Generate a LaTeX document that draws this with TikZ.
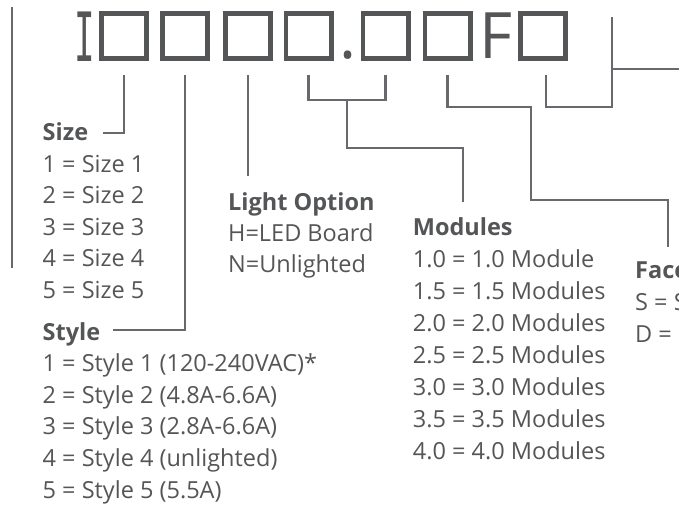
\documentclass[tikz,border=0pt]{standalone}
\usepackage{fontspec}
\setmainfont{Open Sans}
\newfontfamily\slabfont{DejaVu Sans Mono}
\usetikzlibrary{positioning,calc}
\definecolor{ink}{RGB}{84,85,87}
\definecolor{wirecol}{RGB}{104,105,108}
\tikzset{
  glyphbox/.style={draw=ink, line width=4.7pt, minimum width=45.3pt, minimum height=45.3pt, inner sep=0pt},
  glyph/.style={text=ink, inner sep=0pt, anchor=base},
  wire/.style={draw=wirecol, line width=2.4pt},
  head/.style={text=ink, anchor=base west, inner sep=0pt, font=\bfseries\fontsize{23.5}{28}\selectfont},
  item/.style={text=ink, anchor=base west, inner sep=0pt, font=\fontsize{23.5}{28}\selectfont},
}
\begin{document}
\begin{tikzpicture}[x=1pt,y=-1pt]
  \useasboundingbox (0,0) rectangle (679,506);
  \clip (0,0) rectangle (679,506);
  % part number
  \node[glyph, font=\slabfont\fontsize{68}{68}\selectfont] (I) at (85,61) {\scalebox{.5}[1]{I}};
  \node[glyphbox] (b1) at (124,36) {};
  \node[glyphbox] (b2) [right=11pt of b1] {};
  \node[glyphbox] (b3) [right=13pt of b2] {};
  \node[glyphbox] (b4) [right=10.5pt of b3] {};
  \node[glyph, font=\fontsize{64}{64}\selectfont] (dot) at (348,58) {.};
  \node[glyphbox] (b5) [right=27pt of b4] {};
  \node[glyphbox] (b6) [right=12pt of b5] {};
  \node[glyph, font=\fontsize{64}{64}\selectfont] (F) at (496.5,58) {F};
  \node[glyphbox] (b7) [right=45.5pt of b6] {};
  %
  \coordinate (t1) at ($(b1.south)+(0,14)$);
  \coordinate (t2) at ($(b2.south)+(0,14)$);
  \coordinate (t3) at ($(b3.south)+(0,14)$);
  \coordinate (t4) at ($(b4.south)+(0,14)$);
  \coordinate (t5) at ($(b5.south)+(0,14)$);
  \coordinate (t6) at ($(b6.south)+(0,14)$);
  \coordinate (t7) at ($(b7.south)+(3,14)$);
  % legends
  \node[head] (sizehd) at (42.5,140.5) {Size};
  \foreach \txt [count=\i] in {1 = Size 1,2 = Size 2,3 = Size 3,4 = Size 4,5 = Size 5}
    \node[item] (size\i) at (42.5,140.5+31.6*\i) {\txt};
  \node[head] (stylehd) at (42.5,340) {Style};
  \foreach \txt [count=\i] in {1 = Style 1 (120-240VAC)*,2 = Style 2 (4.8A-6.6A),3 = Style 3 (2.8A-6.6A),4 = Style 4 (unlighted),5 = Style 5 (5.5A)}
    \node[item] (style\i) at (42.5,340+31.6*\i) {\txt};
  \node[head] (lighthd) at (228,210) {Light Option};
  \foreach \txt [count=\i] in {H=LED Board,N=Unlighted}
    \node[item] (light\i) at (228,210+31*\i) {\txt};
  \node[head] (modhd) at (412.7,235) {Modules};
  \foreach \txt [count=\i] in {1.0 = 1.0 Module,1.5 = 1.5 Modules,2.0 = 2.0 Modules,2.5 = 2.5 Modules,3.0 = 3.0 Modules,3.5 = 3.5 Modules,4.0 = 4.0 Modules}
    \node[item] (mod\i) at (412.7,235+32.1*\i) {\txt};
  \node[head] (facehd) at (635,278) {Face};
  \foreach \txt [count=\i] in {S = S,D =}
    \node[item] (face\i) at (635,278+32*\i) {\txt};
  % connectors
  \coordinate (sizeend) at (103,133);
  \coordinate (styleend) at (113,330);
  \coordinate (lightend) at (247,176);
  \coordinate (modend) at (463,202);
  \coordinate (faceend) at (668,247);
  \coordinate (farend) at (679,69);
  \draw[wire] (t1) |- (sizeend);
  \draw[wire] (t2) |- (styleend);
  \draw[wire] (t3) -- (t3 |- lightend);
  \draw[wire] (t4) -- ++(0,25) -| (t5);
  \draw[wire] ($(t4)!.5!(t5)+(0,25)$) |- (modend |- 0,148) -- (modend);
  \draw[wire] (t6) |- (531,107) |- (faceend |- 0,200) -- (faceend);
  \draw[wire] (t7) |- (612,107) -- (612,17);
  \draw[wire] (612,69) -- (farend);
  \draw[wire] (12,7) -- (12,268);
\end{tikzpicture}
\end{document}
